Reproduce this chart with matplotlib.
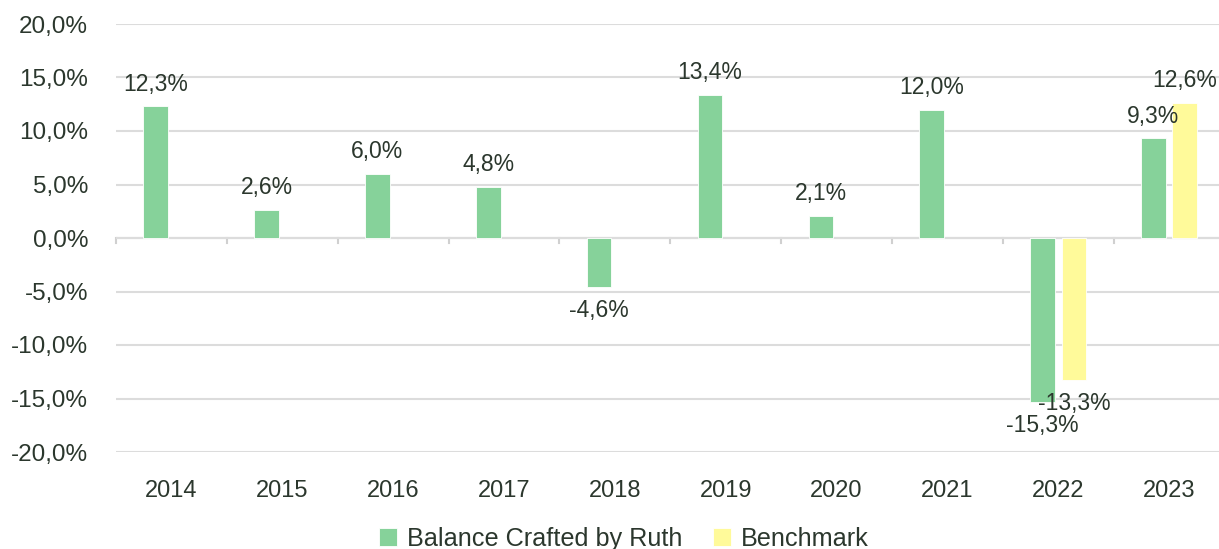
import matplotlib.pyplot as plt
import numpy as np

years = ["2014", "2015", "2016", "2017", "2018", "2019", "2020", "2021", "2022", "2023"]
ruth = [12.3, 2.6, 6.0, 4.8, -4.6, 13.4, 2.1, 12.0, -15.3, 9.3]
benchmark = [np.nan] * 8 + [-13.3, 12.6]

green = "#86d29a"
yellow = "#fffa9a"
txt = "#2b372d"

plt.rcParams['font.family'] = ['Liberation Sans', 'DejaVu Sans']

fig = plt.figure(figsize=(12.19, 5.49), dpi=100)
ax = fig.add_axes([116 / 1219, 97 / 549, 1108.5 / 1219, 428 / 549])

x = np.arange(len(years))
w = 0.222
off = 0.1415

b1 = ax.bar(x - off, ruth, w, color=green, edgecolor="#ffffff", linewidth=0.6,
            label="Balance Crafted by Ruth", zorder=3)
b2 = ax.bar(x + off, benchmark, w, color=yellow, edgecolor="#ffffff", linewidth=0.6,
            label="Benchmark", zorder=3)


def fmt(v):
    return f"{v:.1f}%".replace(".", ",")


# value labels
for bars, vals in [(b1, ruth), (b2, benchmark)]:
    for rect, v in zip(bars, vals):
        if np.isnan(v):
            continue
        cx = rect.get_x() + rect.get_width() / 2
        dy = 16 if v >= 0 else -17
        ax.annotate(fmt(v), (cx, v), xytext=(0, dy), textcoords="offset points",
                    ha="center", va="center", fontsize=16.5, color=txt)

ax.set_xlim(-0.5, len(years) - 0.5)
ax.set_ylim(-20, 20)
yt = np.arange(-20, 21, 5)
ax.set_yticks(yt)
ax.set_yticklabels([fmt(v) for v in yt], fontsize=17.5, color=txt)
ax.set_xticks(x)
ax.set_xticklabels(years, fontsize=17, color=txt)
ax.tick_params(axis="y", length=0, pad=20)
ax.tick_params(axis="x", length=0, pad=20)

ax.grid(axis="y", color="#dcdcdc", linewidth=1.5, zorder=0)
ax.axhline(0, color="#c8c8c8", linewidth=1.5, zorder=1)
# category separators on the zero line
for b in np.arange(len(years) + 1) - 0.5:
    ax.plot([b, b], [0, -0.45], color="#d0d0d0", linewidth=1.5, zorder=1, clip_on=False)

for s in ax.spines.values():
    s.set_visible(False)

leg = ax.legend(loc="center", bbox_to_anchor=(624 / 1219, 10 / 549),
                bbox_transform=fig.transFigure, ncol=2, frameon=False,
                fontsize=18.2, handlelength=0.7, handleheight=0.7,
                handletextpad=0.4, columnspacing=1.2)
for t in leg.get_texts():
    t.set_color(txt)

fig.savefig("out.png", dpi=100)
